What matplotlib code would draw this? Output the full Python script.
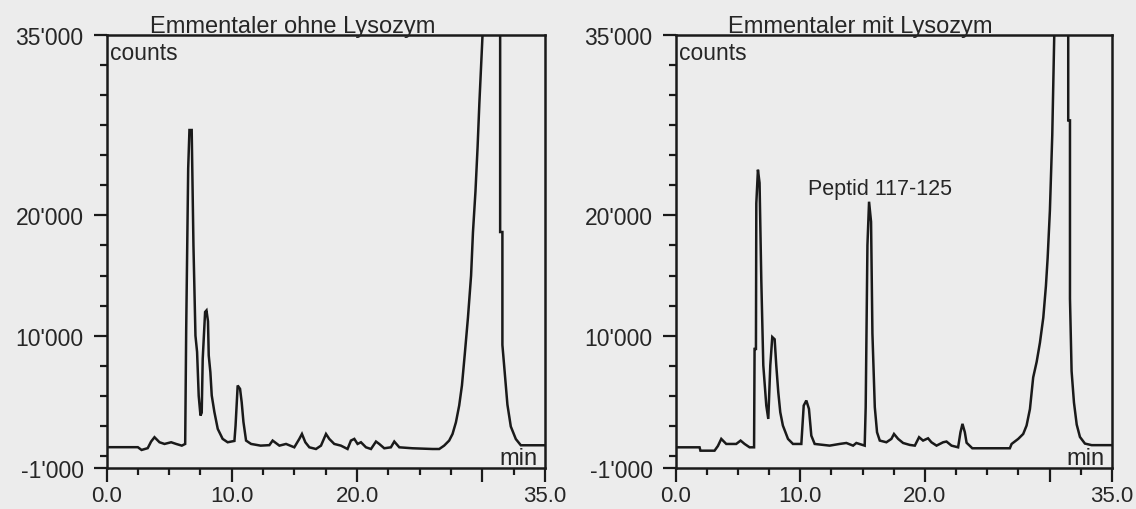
import matplotlib
matplotlib.use("Agg")
import matplotlib.pyplot as plt

plt.rcParams['font.family'] = ['Liberation Sans', 'DejaVu Sans']

# ---------------- data ----------------
titles = ["Emmentaler ohne Lysozym", "Emmentaler mit Lysozym"]

t_ohne = [0.0, 2.5, 2.8, 3.29, 3.56, 3.83, 4.23, 4.63, 5.16, 5.56, 6.01, 6.28,
          6.36, 6.52, 6.62, 6.80, 6.94, 7.10, 7.23, 7.36, 7.50, 7.60, 7.68, 7.87,
          7.98, 8.10, 8.16, 8.29, 8.40, 8.61, 8.88, 9.27, 9.67, 10.21, 10.30, 10.47,
          10.66, 10.79, 10.93, 11.14, 11.54, 12.3, 13.0, 13.26, 13.8, 14.33, 14.99,
          15.39, 15.60, 15.87, 16.19, 16.72, 17.12, 17.52, 17.78, 18.18, 18.71,
          19.24, 19.51, 19.78, 20.04, 20.31, 20.71, 21.11, 21.51, 21.77, 22.17,
          22.70, 22.97, 23.37, 24.43, 26.02, 26.56, 26.95, 27.35, 27.62, 27.89,
          28.15, 28.37, 28.60, 28.85, 29.10, 29.25, 29.45, 29.62, 29.76, 29.97,
          30.10, 30.75, 31.42, 31.42, 31.60, 31.60, 31.79, 32.00, 32.27, 32.67,
          33.07, 35.0]
c_ohne = [730, 730, 500, 650, 1200, 1560, 1140, 1000, 1140, 1000, 860, 1000,
          10440, 23900, 27100, 27100, 17500, 10000, 8650, 5000, 3360, 3600, 8080, 11970,
          12100, 11200, 8360, 6970, 5030, 3660, 2250, 1420, 1140, 1250, 2500, 5860,
          5580, 4470, 2830, 1280, 1000, 860, 900, 1280, 860, 1000, 720,
          1420, 1830, 1140, 720, 580, 860, 1830, 1420, 1000, 860,
          580, 1280, 1420, 1000, 1140, 720, 580, 1200, 1000, 640,
          720, 1200, 720, 640, 580, 580, 860, 1280, 1830, 2800,
          4190, 5860, 8500, 11500, 15000, 18600, 22000, 25700, 29300, 34000,
          37000, 65000, 37000, 18620, 18620, 9230, 6880, 4270, 2450, 1410,
          890, 890]

t_mit = [0.0, 1.93, 2.0, 3.13, 3.40, 3.67, 4.07, 4.87, 5.22, 5.54, 5.94, 6.30,
         6.34, 6.45, 6.48, 6.61, 6.74, 6.88, 7.04, 7.28, 7.44, 7.60, 7.76, 7.95,
         8.08, 8.24, 8.40, 8.61, 9.02, 9.42, 10.09, 10.28, 10.49, 10.70, 10.89,
         11.16, 12.36, 13.16, 13.70, 14.24, 14.50, 15.17, 15.25, 15.39, 15.52,
         15.68, 15.79, 15.98, 16.16, 16.38, 16.91, 17.31, 17.52, 17.85, 18.25,
         18.78, 19.19, 19.53, 19.85, 20.25, 20.52, 20.93, 21.46, 21.73, 22.13,
         22.66, 22.85, 23.01, 23.20, 23.34, 23.80, 26.81, 26.95, 27.48, 27.88,
         28.15, 28.42, 28.68, 28.96, 29.22, 29.49, 29.70, 29.84, 30.02, 30.21,
         30.37, 30.90, 31.49, 31.49, 31.63, 31.63, 31.76, 31.95, 32.17, 32.43,
         32.83, 33.37, 35.0]
c_mit = [720, 720, 440, 440, 830, 1420, 1000, 1000, 1280, 1000, 720, 720,
         8900, 8900, 21000, 23800, 22700, 14600, 7530, 4190, 3080, 7530, 9890, 9700,
         7530, 5310, 3640, 2530, 1420, 1000, 1000, 4190, 4610, 3920, 1690,
         1000, 860, 1000, 1080, 860, 1080, 860, 4060, 17530, 21140,
         19470, 10170, 4060, 1970, 1280, 1140, 1420, 1830, 1420, 1080,
         920, 860, 1560, 1280, 1470, 1140, 860, 1140, 1200, 860,
         720, 1970, 2670, 1970, 1100, 640, 640, 1000, 1420, 1830,
         2530, 3900, 6530, 7830, 9410, 11500, 14120, 16470, 20400, 26670,
         35000, 65000, 40000, 27900, 27900, 13080, 7050, 4440, 2610, 1580,
         1030, 900, 900]

series_t = [t_ohne, t_mit]
series_c = [c_ohne, c_mit]

ytick_major = [-1000, 10000, 20000, 35000]
ytick_labels = ["-1'000", "10'000", "20'000", "35'000"]
ytick_minor = [0, 2500, 5000, 7500, 12500, 15000, 17500, 22500, 25000, 27500, 30000, 32500]
xtick_major = [0, 10, 20, 30, 35]
xtick_labels = ["0.0", "10.0", "20.0", "", "35.0"]
xtick_minor = [2.5, 5, 7.5, 12.5, 15, 17.5, 22.5, 25, 27.5, 32.5]

annotation_text = "Peptid 117-125"
annotation_pos = (10.6, 21800)

# ---------------- figure ----------------
W, H = 1136, 510
bg = '#ececec'
ink = '#1a1a1a'
fig = plt.figure(figsize=(W / 100, H / 100), dpi=100, facecolor=bg)

boxes = [(106.5, 545.0), (675.5, 1112.0)]
top_px, bot_px = 36.0, 469.0

for i, (x0, x1) in enumerate(boxes):
    ax = fig.add_axes([x0 / W, (H - bot_px) / H, (x1 - x0) / W, (bot_px - top_px) / H])
    ax.set_facecolor(bg)
    ax.plot(series_t[i], series_c[i], color=ink, lw=1.8, solid_joinstyle='miter')
    ax.set_xlim(0, 35)
    ax.set_ylim(-1000, 35000)
    for s in ax.spines.values():
        s.set_linewidth(1.8)
        s.set_color(ink)
    ax.set_yticks(ytick_major)
    ax.set_yticklabels(ytick_labels)
    ax.set_yticks(ytick_minor, minor=True)
    ax.set_xticks(xtick_major)
    ax.set_xticklabels(xtick_labels)
    ax.set_xticks(xtick_minor, minor=True)
    ax.tick_params(axis='y', which='major', direction='out', length=9.5, width=1.6,
                   color=ink, labelsize=16.5, pad=7, labelcolor='#262626')
    ax.tick_params(axis='y', which='minor', direction='out', length=5, width=1.6, color=ink)
    ax.tick_params(axis='x', which='major', direction='out', length=10, width=1.6,
                   color=ink, labelsize=16, pad=2, labelcolor='#262626')
    ax.tick_params(axis='x', which='minor', direction='out', length=5, width=1.6, color=ink)

    ax.text(0.424, 1.007, titles[i], transform=ax.transAxes, ha='center',
            va='baseline', fontsize=17, color='#262626')
    ax.text(0.008, 0.9446, "counts", transform=ax.transAxes, ha='left',
            va='baseline', fontsize=16.5, color='#262626')
    ax.text(0.982, 0.009, "min", transform=ax.transAxes, ha='right',
            va='baseline', fontsize=17, color='#262626')
    if i == 1:
        ax.text(annotation_pos[0], annotation_pos[1], annotation_text, ha='left',
                va='baseline', fontsize=15.5, color='#262626')

fig.savefig("out.png", dpi=100, facecolor=bg)
